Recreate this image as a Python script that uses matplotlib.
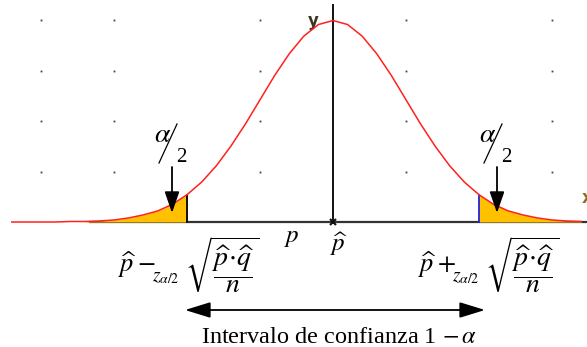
import matplotlib
matplotlib.use("Agg")
import matplotlib.pyplot as plt
from matplotlib.patches import FancyArrowPatch

plt.rcParams['mathtext.fontset'] = 'stix'
plt.rcParams['font.family'] = ['Liberation Serif', 'DejaVu Sans']

# curve (x in grid units, y in grid units)
curve_x = [-4.4, -4.2, -4.0, -3.8, -3.6, -3.4, -3.2, -3.0, -2.8, -2.6, -2.4, -2.2,
           -2.0, -1.8, -1.6, -1.4, -1.2, -1.0, -0.8, -0.6, -0.4, -0.2, 0.0,
           0.2, 0.4, 0.6, 0.8, 1.0, 1.2, 1.4, 1.6, 1.8, 2.0, 2.2, 2.4, 2.6,
           2.8, 3.0, 3.2, 3.4]
curve_y = [0.00, 0.00, 0.00, 0.00, 0.01, 0.01, 0.02, 0.04, 0.08, 0.14, 0.22, 0.35,
           0.54, 0.79, 1.11, 1.50, 1.94, 2.42, 2.90, 3.33, 3.68, 3.91, 3.99,
           3.91, 3.68, 3.33, 2.90, 2.42, 1.94, 1.50, 1.11, 0.79, 0.54, 0.35, 0.22, 0.14,
           0.08, 0.04, 0.02, 0.01]
tail_left = (-3.4, -2.0)
tail_right = (2.0, 3.4)
dot_x = [-4, -3, -1, 1, 3]
dot_y = [1, 2, 3, 4]

PXX, PXY = 73.0, 50.5          # pixels per grid unit
X0PX, Y0PX = 333.0, 222.0      # origin position in pixels


def px(xp, yp):
    return (xp - X0PX) / PXX, (Y0PX - yp) / PXY


fig = plt.figure(figsize=(5.87, 3.47), dpi=100)
ax = fig.add_axes([0, 0, 1, 1])
ax.set_xlim(-X0PX / PXX, (587 - X0PX) / PXX)
ax.set_ylim(-(347 - Y0PX) / PXY, Y0PX / PXY)
ax.axis('off')

# dotted grid
for gx in dot_x:
    for gy in dot_y:
        ax.plot(gx, gy, marker='s', ms=1.3, color='#444444', mec='none', zorder=1)

# axes
ax.plot([-3.33, 3.6], [0, 0], color='#333333', lw=1.6, zorder=2)
ax.plot([0, 0], [0, 4.3], color='#111111', lw=1.4, zorder=2)
ax.plot(0, 0, marker='x', ms=4, mew=1.5, color='#111111', zorder=4)

# tails
lx = [x for x in curve_x if tail_left[0] <= x <= tail_left[1]]
ly = [y for x, y in zip(curve_x, curve_y) if tail_left[0] <= x <= tail_left[1]]
rx = [x for x in curve_x if tail_right[0] <= x <= tail_right[1]]
ry = [y for x, y in zip(curve_x, curve_y) if tail_right[0] <= x <= tail_right[1]]
ax.fill_between(lx, 0, ly, color='#FFC000', lw=0, zorder=2.5)
ax.fill_between(rx, 0, ry, color='#FFC000', lw=0, zorder=2.5)
ax.plot([tail_left[1], tail_left[1]], [0, ly[-1]], color='black', lw=1.3, zorder=3)
ax.plot([tail_right[0], tail_right[0]], [0, ry[0]], color='#2222dd', lw=1.3, zorder=3)

# curve
ax.plot(curve_x, curve_y, color='#ff2020', lw=1.1, zorder=3.5)

# axis labels
ax.text(*px(313, 21), 'y', fontsize=12, family='DejaVu Sans', fontweight='bold',
        color='#3d3520', ha='center', va='center')
ax.text(*px(582, 198), 'x', fontsize=12, family='DejaVu Sans', fontweight='bold',
        color='#8a6d2a', ha='left', va='center')

# alpha/2 labels with arrows
for arrow_px in (172, 497):
    ax.annotate('', xy=px(arrow_px, 213), xytext=px(arrow_px, 167),
                arrowprops=dict(arrowstyle='-|>,head_length=1.3,head_width=0.45',
                                color='black', lw=1.3, shrinkA=0, shrinkB=0),
                zorder=5)
    ax.text(*px(arrow_px - 9, 135), r'$\alpha$', fontsize=20, ha='center', va='center')
    sx0, sy0 = px(arrow_px - 13, 163)
    sx1, sy1 = px(arrow_px + 5, 124)
    ax.plot([sx0, sx1], [sy0, sy1], color='black', lw=0.9, zorder=5)
    ax.text(*px(arrow_px + 9, 157), '2', fontsize=15, ha='center', va='center')

# p and p-hat
ax.text(*px(292, 238), r'$p$', fontsize=18, ha='center', va='center')
ax.text(*px(339, 244), r'$\widehat{p}$', fontsize=18, ha='center', va='center')

# formulas, built from three pieces each
for x0, sign in ((118, '-'), (418, '+')):
    ax.text(*px(x0, 272), r'$\widehat{p}' + sign + '$', fontsize=19,
            ha='left', va='baseline')
    ax.text(*px(x0 + 34, 281), r'$z_{\alpha/2}$', fontsize=14,
            ha='left', va='baseline')
    ax.text(*px(x0 + 67, 265),
            r'$\sqrt{\dfrac{\widehat{p}\!\cdot\!\widehat{q}}{n}}$',
            fontsize=20, ha='left', va='center')

# interval arrow
arr = FancyArrowPatch(px(185, 310), px(485, 310),
                      arrowstyle='<|-|>,head_length=1.3,head_width=0.4',
                      color='black', lw=1.3, mutation_scale=12, shrinkA=0, shrinkB=0)
ax.add_patch(arr)
ax.text(*px(338.5, 343), r'Intervalo de confianza 1 $-\,\alpha$', fontsize=17.5,
        ha='center', va='baseline')

fig.savefig('out.png', dpi=100)
